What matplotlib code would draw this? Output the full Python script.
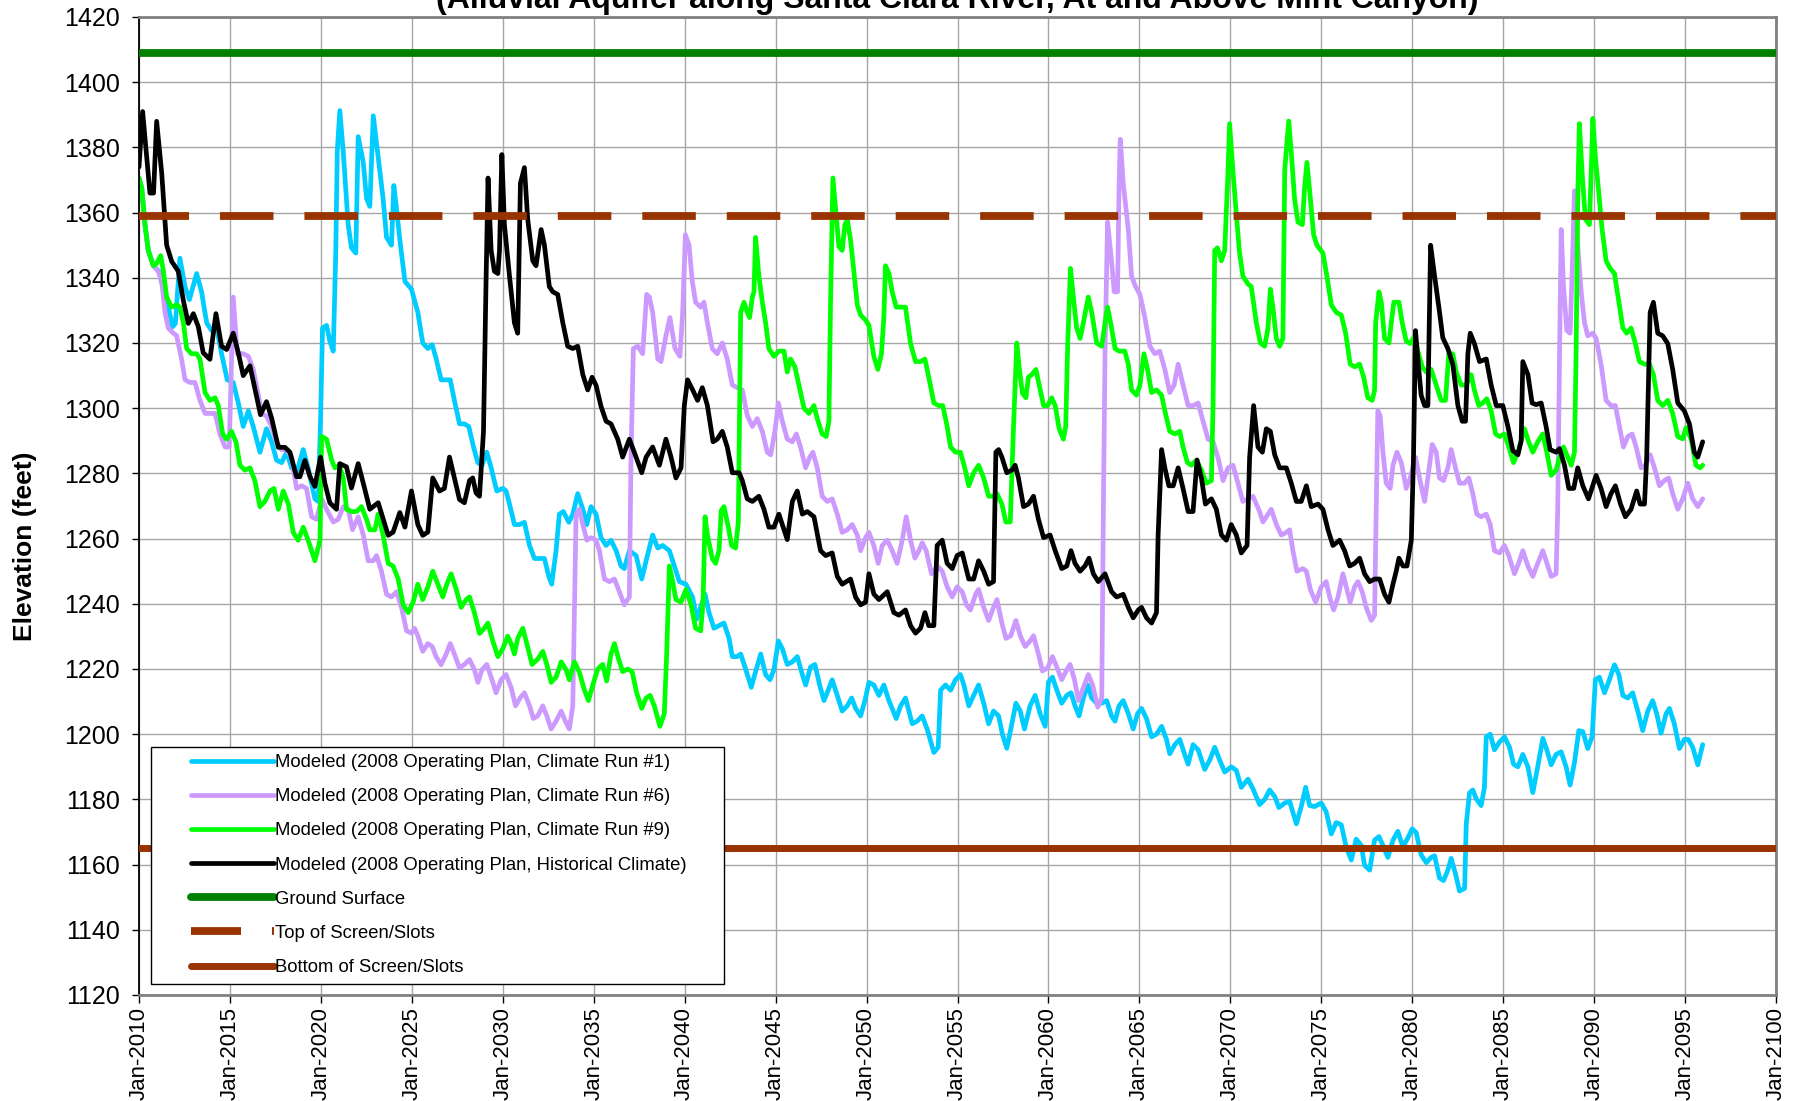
import matplotlib
matplotlib.use('Agg')
import matplotlib.pyplot as plt
from matplotlib.patches import Rectangle

plt.rcParams['font.family'] = ['Liberation Sans', 'DejaVu Sans']

title = "(Alluvial Aquifer along Santa Clara River, At and Above Mint Canyon)"
ylabel = "Elevation (feet)"
legend_labels = [
    "Modeled (2008 Operating Plan, Climate Run #1)",
    "Modeled (2008 Operating Plan, Climate Run #6)",
    "Modeled (2008 Operating Plan, Climate Run #9)",
    "Modeled (2008 Operating Plan, Historical Climate)",
    "Ground Surface",
    "Top of Screen/Slots",
    "Bottom of Screen/Slots",
]
ground_surface = 1409
top_of_screen = 1359
bottom_of_screen = 1165
x_ticks = list(range(2010, 2101, 5))
x_ticklabels = ["Jan-%d" % y for y in x_ticks]
y_ticks = list(range(1120, 1421, 20))

# (decimal year, elevation ft)
run1 = [(2010.0,1370.6),(2010.15,1367.5),(2010.33,1356.3),(2010.51,1348.4),(2010.79,1343.7),(2011.1,1342),(2011.4,1335),(2011.65,1330),(2011.85,1325),(2012.0,1326),
(2012.25,1346),(2012.53,1337.3),(2012.77,1333.3),(2013.17,1341.3),(2013.44,1335.7),(2013.72,1326.2),(2013.99,1323.8),(2014.27,1324.6),(2014.54,1316.7),(2014.85,1308.7),
(2015.18,1307.9),(2015.46,1301.6),(2015.73,1294.4),(2016.01,1299.2),(2016.28,1294.4),(2016.65,1286.5),(2017.01,1293.7),(2017.29,1289.7),(2017.56,1284.1),(2017.84,1283.3),
(2018.11,1286.5),(2018.39,1281.7),(2018.66,1280.2),(2019.03,1287.3),(2019.3,1281.7),(2019.67,1272.2),(2019.85,1271.4),(2019.98,1296),(2020.09,1324.6),(2020.31,1325.4),
(2020.49,1320.6),(2020.68,1317.5),(2020.82,1348.4),(2020.9,1378.6),(2021.04,1391.3),(2021.23,1378.6),(2021.5,1356.3),(2021.68,1349.2),(2021.92,1347.6),(2022.05,1383.3),
(2022.33,1375.4),(2022.51,1364.3),(2022.69,1361.9),(2022.88,1389.7),(2023.15,1377),(2023.42,1364.3),(2023.61,1352.4),(2023.88,1350),(2024.01,1368.3),(2024.16,1361.1),
(2024.34,1351.6),(2024.62,1338.9),(2024.98,1336.5),(2025.33,1329.4),(2025.6,1320),(2025.88,1318.3),(2026.12,1319.5),(2026.34,1315.1),(2026.61,1308.7),(2027.11,1308.7),
(2027.34,1302.4),(2027.62,1295.2),(2027.89,1295.2),(2028.13,1294.4),(2028.39,1288.1),(2028.63,1283.3),(2028.86,1282.5),(2029.12,1286.5),(2029.36,1281.7),(2029.67,1274.6),
(2030.0,1275.4),(2030.18,1274.6),(2030.37,1270.6),(2030.64,1264.3),(2030.92,1264.3),(2031.19,1265),(2031.47,1257.9),(2031.74,1253.9),(2032.01,1253.9),(2032.29,1253.9),
(2032.53,1248.4),(2032.69,1246),(2032.93,1256.3),(2033.11,1267.5),(2033.33,1268.3),(2033.63,1265),(2033.85,1267.5),(2034.12,1273.8),(2034.4,1269),(2034.62,1264.3),
(2034.85,1269.8),(2035.13,1267.5),(2035.4,1260.3),(2035.68,1257.9),(2035.95,1259.5),(2036.23,1256.3),(2036.5,1251.6),(2036.68,1250.8),(2036.96,1256.3),(2037.33,1254.8),
(2037.64,1247.6),(2037.88,1253.2),(2038.24,1261.1),(2038.52,1257.1),(2038.79,1257.9),(2039.16,1256.3),(2039.43,1251.6),(2039.71,1246.8),(2040.07,1246),(2040.44,1242),
(2040.66,1235.3),(2040.88,1238.9),(2041.12,1242.9),(2041.34,1237.3),(2041.61,1232.5),(2041.89,1233.3),(2042.16,1234.1),(2042.44,1229.4),(2042.62,1223.8),(2042.89,1223.8),
(2043.08,1224.6),(2043.35,1220),(2043.66,1214.4),(2043.9,1219.2),(2044.18,1224.6),(2044.45,1218.3),(2044.69,1216.7),(2044.91,1219.8),(2045.15,1228.6),(2045.37,1226.2),
(2045.64,1221.4),(2045.92,1222.2),(2046.19,1223.8),(2046.47,1218.3),(2046.65,1215.1),(2046.92,1220.6),(2047.16,1221.4),(2047.42,1215.1),(2047.66,1210.3),(2047.89,1213.5),
(2048.11,1216.7),(2048.39,1211.9),(2048.66,1207.1),(2048.94,1208.7),(2049.18,1211.1),(2049.4,1207.9),(2049.67,1205.6),(2049.91,1210.3),(2050.13,1215.9),(2050.4,1215.1),
(2050.68,1211.9),(2050.95,1215.1),(2051.23,1210.3),(2051.63,1204.8),(2051.87,1208.7),(2052.14,1211.1),(2052.51,1203.2),(2052.78,1204),(2053.06,1205.6),(2053.33,1201.6),
(2053.7,1194.4),(2053.94,1196),(2054.07,1213.5),(2054.34,1215.1),(2054.62,1213.5),(2054.89,1216.7),(2055.16,1218.3),(2055.35,1215.1),(2055.62,1208.7),(2055.89,1211.9),
(2056.16,1215.1),(2056.44,1209.5),(2056.71,1203.2),(2056.98,1207.1),(2057.26,1205.6),(2057.48,1199.7),(2057.71,1195.7),(2057.99,1203.2),(2058.21,1209.5),(2058.45,1207.1),
(2058.68,1201.6),(2058.99,1208.7),(2059.27,1211.9),(2059.54,1206.3),(2059.82,1202.4),(2060.0,1216),(2060.22,1217.5),(2060.46,1213.5),(2060.73,1209.5),(2061.01,1211.9),
(2061.24,1212.7),(2061.46,1208.7),(2061.68,1205.6),(2061.92,1211.1),(2062.16,1215.1),(2062.38,1211.1),(2062.65,1209.5),(2062.93,1209.5),(2063.2,1210.3),(2063.47,1205.6),
(2063.66,1204),(2063.88,1208.7),(2064.11,1210.3),(2064.39,1206.3),(2064.66,1201.6),(2064.9,1206.3),(2065.12,1207.9),(2065.39,1204.8),(2065.67,1199.2),(2065.94,1200),
(2066.22,1202.4),(2066.49,1198.4),(2066.67,1194),(2066.95,1196.8),(2067.22,1198.4),(2067.5,1193.6),(2067.68,1190.8),(2067.95,1196.8),(2068.23,1195.2),(2068.59,1189.2),
(2068.87,1192.1),(2069.14,1196),(2069.41,1192.1),(2069.69,1188.4),(2070.05,1190),(2070.33,1188.9),(2070.6,1183.7),(2070.97,1186.2),(2071.24,1183.3),(2071.61,1178.4),
(2071.89,1180),(2072.16,1182.9),(2072.44,1180.9),(2072.67,1177.5),(2072.99,1178.9),(2073.26,1179.4),(2073.63,1172.5),(2073.9,1177.8),(2074.14,1183.7),(2074.36,1178.1),
(2074.63,1177.8),(2075.0,1178.9),(2075.27,1176.2),(2075.55,1169.4),(2075.82,1172.9),(2076.1,1172.2),(2076.37,1165.4),(2076.65,1161.4),(2076.92,1167.8),(2077.2,1165.9),
(2077.38,1159.8),(2077.66,1158.3),(2077.93,1167.5),(2078.17,1168.6),(2078.39,1165.9),(2078.66,1162.2),(2078.94,1167.5),(2079.21,1170.2),(2079.49,1165.4),(2079.76,1168.2),
(2080.0,1171),(2080.22,1169.8),(2080.49,1163),(2080.77,1160.6),(2081.04,1162.2),(2081.23,1162.7),(2081.5,1155.9),(2081.72,1155.1),(2081.96,1158.3),(2082.14,1161.9),
(2082.38,1157.1),(2082.6,1151.9),(2082.88,1152.7),(2082.97,1172.5),(2083.15,1182),(2083.33,1182.9),(2083.52,1180.2),(2083.79,1178.1),(2083.97,1183.7),(2084.07,1199.2),
(2084.29,1200),(2084.52,1195.2),(2084.8,1197.6),(2085.07,1199.2),(2085.35,1196),(2085.57,1190.8),(2085.81,1190),(2086.08,1193.8),(2086.36,1190),(2086.63,1182.1),
(2086.9,1190),(2087.18,1198.7),(2087.4,1195.2),(2087.64,1190.6),(2087.91,1193.8),(2088.19,1194.6),(2088.46,1190),(2088.68,1184.4),(2088.92,1191.3),(2089.16,1201.1),
(2089.38,1200.8),(2089.65,1195.6),(2089.89,1199.2),(2090.07,1216.7),(2090.29,1217.5),(2090.57,1212.7),(2090.84,1216.7),(2091.12,1221.3),(2091.36,1218.3),(2091.58,1211.9),
(2091.85,1211.1),(2092.12,1212.7),(2092.4,1207.1),(2092.67,1201.1),(2092.95,1207.1),(2093.22,1210.3),(2093.44,1206.3),(2093.68,1200.3),(2093.96,1206.3),(2094.14,1207.9),
(2094.41,1203.2),(2094.69,1195.6),(2094.96,1198.4),(2095.18,1198.4),(2095.42,1196),(2095.7,1190.6),(2095.97,1196.8)]

run6 = [(2010.0,1370.6),(2010.15,1367.5),(2010.33,1356.3),(2010.51,1348.4),(2010.79,1343.7),(2011.06,1342),(2011.25,1338.9),(2011.43,1329.4),(2011.61,1324.6),(2011.89,1323),
(2012.07,1322.2),(2012.34,1315.1),(2012.53,1308.7),(2012.8,1307.9),(2013.08,1307.9),(2013.35,1302.4),(2013.63,1298.4),(2013.9,1298.4),(2014.18,1298.4),(2014.45,1292.1),
(2014.73,1288.1),(2014.96,1288.1),(2015.18,1334.1),(2015.4,1316.7),(2015.73,1316.7),(2016.01,1315.9),(2016.28,1311.9),(2016.56,1304),(2016.74,1298.4),(2017.01,1297.6),
(2017.29,1294.4),(2017.56,1289.7),(2017.84,1287.3),(2018.11,1287.3),(2018.39,1284.9),(2018.66,1275.4),(2018.94,1276.2),(2019.21,1275.4),(2019.49,1266.7),(2019.76,1265.9),
(2020.04,1272.2),(2020.31,1269),(2020.68,1265.1),(2020.95,1265.9),(2021.23,1269.8),(2021.5,1269),(2021.74,1262.7),(2022.05,1266.7),(2022.33,1261.1),(2022.6,1253.2),
(2022.88,1253.2),(2023.06,1254.8),(2023.33,1250),(2023.61,1242.9),(2023.88,1242.1),(2024.16,1243.7),(2024.43,1238.9),(2024.71,1231.7),(2024.98,1231),(2025.15,1232.5),
(2025.33,1230.2),(2025.6,1225.4),(2025.88,1227.8),(2026.12,1226.9),(2026.34,1223.7),(2026.61,1221.3),(2026.89,1224.6),(2027.11,1227.8),(2027.34,1224.6),(2027.62,1220.3),
(2027.89,1221.4),(2028.17,1222.9),(2028.44,1219.8),(2028.63,1215.9),(2028.86,1219.8),(2029.12,1221.4),(2029.36,1217.5),(2029.63,1212.7),(2029.91,1216.7),(2030.18,1218.3),
(2030.46,1214.3),(2030.7,1208.7),(2030.95,1211.1),(2031.19,1212.7),(2031.47,1208.7),(2031.68,1204.8),(2031.92,1205.6),(2032.2,1208.7),(2032.42,1205.6),(2032.66,1201.6),
(2032.93,1204),(2033.21,1207.1),(2033.44,1204),(2033.66,1201.6),(2033.85,1208.7),(2033.94,1237.3),(2034.03,1267.5),(2034.21,1269),(2034.4,1264.3),(2034.62,1259.5),
(2034.85,1260.3),(2035.13,1259.5),(2035.31,1256.3),(2035.59,1247.6),(2035.86,1246.8),(2036.14,1247.6),(2036.41,1243.7),(2036.68,1239.7),(2036.96,1242.1),(2037.05,1284.9),
(2037.18,1318.3),(2037.42,1319),(2037.69,1316.7),(2037.91,1334.9),(2038.06,1334.1),(2038.24,1329.4),(2038.52,1315.1),(2038.7,1314.3),(2038.97,1322.2),(2039.19,1327.8),
(2039.47,1318.3),(2039.74,1315.9),(2039.89,1329.4),(2040.04,1353.2),(2040.24,1350),(2040.42,1338.9),(2040.6,1332.5),(2040.88,1331),(2041.06,1332.5),(2041.25,1326.2),
(2041.52,1318.3),(2041.79,1316.7),(2042.07,1320),(2042.34,1315.1),(2042.62,1307.1),(2042.89,1306.3),(2043.17,1305.6),(2043.44,1297.8),(2043.72,1294.4),(2043.99,1296.8),
(2044.27,1292.9),(2044.54,1286.5),(2044.73,1285.7),(2044.96,1292.9),(2045.15,1301.6),(2045.37,1296),(2045.64,1290.5),(2045.92,1289.7),(2046.14,1292.1),(2046.37,1288.1),
(2046.65,1281.7),(2046.87,1284.9),(2047.05,1286.5),(2047.29,1281.7),(2047.56,1273),(2047.84,1271.4),(2048.11,1272.2),(2048.39,1267.5),(2048.66,1261.9),(2048.94,1262.7),
(2049.21,1264.3),(2049.49,1261.1),(2049.67,1256.3),(2049.95,1260.3),(2050.13,1261.9),(2050.4,1257.9),(2050.64,1252.4),(2050.86,1257.9),(2051.14,1259.5),(2051.41,1256.3),
(2051.68,1252.4),(2051.96,1259.5),(2052.18,1266.7),(2052.42,1259.5),(2052.66,1254),(2052.88,1256.3),(2053.06,1258.7),(2053.28,1256.3),(2053.57,1249.2),(2053.88,1251.6),
(2054.16,1250),(2054.43,1245.2),(2054.71,1242.1),(2054.98,1245.2),(2055.26,1243.7),(2055.49,1239.7),(2055.71,1238.1),(2056.0,1243),(2056.16,1244.4),(2056.44,1238.9),
(2056.71,1234.9),(2056.98,1238.9),(2057.17,1241.3),(2057.44,1234.1),(2057.66,1229.4),(2057.93,1230.2),(2058.21,1234.9),(2058.45,1230.2),(2058.72,1226.9),(2058.99,1228.6),
(2059.18,1230.2),(2059.45,1224.6),(2059.67,1219.4),(2059.96,1220.4),(2060.22,1223.8),(2060.46,1220.6),(2060.73,1216.7),(2061.01,1219.8),(2061.19,1221.4),(2061.43,1216.7),
(2061.65,1210.3),(2061.92,1214.3),(2062.19,1218.3),(2062.43,1215.1),(2062.71,1208.3),(2062.93,1211.1),(2063.02,1269),(2063.11,1316.7),(2063.25,1357.1),(2063.44,1346.8),
(2063.62,1335.7),(2063.8,1335.7),(2063.88,1367.5),(2063.95,1382.5),(2064.11,1369),(2064.39,1354.8),(2064.57,1340.5),(2064.79,1337.3),(2065.03,1334.9),(2065.3,1327.8),
(2065.58,1319),(2065.85,1316.7),(2066.12,1317.5),(2066.4,1311.9),(2066.67,1304.8),(2066.91,1307.1),(2067.13,1313.5),(2067.4,1307.1),(2067.68,1300.8),(2067.95,1300.8),
(2068.23,1301.6),(2068.5,1296),(2068.78,1290.5),(2069.05,1289.7),(2069.32,1284.9),(2069.6,1277.8),(2069.87,1281.7),(2070.15,1282.5),(2070.42,1277),(2070.69,1271.4),
(2070.97,1272.2),(2071.24,1273),(2071.61,1268.3),(2071.79,1265.1),(2072.07,1267.5),(2072.25,1269),(2072.53,1264.3),(2072.8,1261.1),(2073.08,1261.9),(2073.26,1262.7),
(2073.44,1256.3),(2073.66,1250),(2073.99,1250.8),(2074.18,1250),(2074.4,1244.4),(2074.69,1240.5),(2075.0,1245.2),(2075.27,1246.8),(2075.46,1242.1),(2075.68,1238.1),
(2075.92,1242.1),(2076.19,1249.2),(2076.41,1244.4),(2076.59,1240.5),(2076.83,1245.2),(2077.01,1246.8),(2077.25,1243.7),(2077.47,1238.9),(2077.75,1234.9),(2077.93,1236.5),
(2078.02,1269),(2078.11,1299.2),(2078.24,1297.6),(2078.39,1286.5),(2078.57,1277),(2078.79,1275.4),(2078.94,1282.5),(2079.16,1286.5),(2079.4,1283.3),(2079.67,1275.4),
(2079.89,1278.6),(2080.18,1284.9),(2080.4,1278.6),(2080.68,1271.4),(2080.86,1278.6),(2081.1,1288.9),(2081.32,1286.5),(2081.5,1278.6),(2081.72,1277.8),(2081.96,1281.7),
(2082.14,1287.3),(2082.38,1281.7),(2082.6,1277),(2082.88,1277),(2083.11,1278.6),(2083.33,1273.8),(2083.55,1267.5),(2083.79,1266.7),(2084.07,1267.5),(2084.29,1264.3),
(2084.52,1256.3),(2084.8,1255.6),(2085.07,1257.9),(2085.31,1254.8),(2085.62,1249.2),(2085.9,1253.2),(2086.08,1256.3),(2086.36,1251.6),(2086.63,1248.4),(2086.9,1252.4),
(2087.18,1256.3),(2087.45,1251.6),(2087.64,1248.4),(2087.91,1249.2),(2088.0,1269),(2088.1,1316.7),(2088.19,1354.8),(2088.32,1337.3),(2088.5,1323.8),(2088.68,1323),
(2088.83,1348.4),(2088.92,1366.7),(2089.1,1350),(2089.29,1335.7),(2089.47,1326.2),(2089.65,1322.2),(2089.93,1323),(2090.11,1321.4),(2090.38,1313.5),(2090.66,1302.4),
(2090.93,1300.8),(2091.17,1300.8),(2091.39,1294.4),(2091.61,1288.1),(2091.85,1291.3),(2092.09,1292.1),(2092.31,1288.1),(2092.58,1281.7),(2092.82,1282.5),(2093.08,1285.7),
(2093.32,1281.7),(2093.59,1276.2),(2093.86,1277.8),(2094.1,1278.6),(2094.32,1273.8),(2094.6,1269),(2094.87,1272.2),(2095.15,1277),(2095.42,1272.2),(2095.7,1269.8),
(2095.97,1272.2)]

run9 = [(2010.0,1370.6),(2010.15,1367.5),(2010.33,1356.3),(2010.51,1348.4),(2010.79,1343.7),(2010.97,1344.4),(2011.19,1346.8),(2011.34,1342.1),(2011.52,1334.1),(2011.79,1331),
(2012.07,1331.7),(2012.25,1331),(2012.44,1326.2),(2012.62,1318.3),(2012.89,1316.7),(2013.17,1316.7),(2013.35,1315.1),(2013.63,1304.8),(2013.9,1302.4),(2014.18,1303.2),
(2014.36,1300.8),(2014.6,1292.1),(2014.82,1290.5),(2015.09,1292.9),(2015.33,1289.7),(2015.55,1282.5),(2015.82,1281),(2016.1,1281.7),(2016.37,1277.8),(2016.65,1269.8),
(2016.92,1271.4),(2017.2,1274.6),(2017.42,1275.4),(2017.66,1269),(2017.93,1274.6),(2018.21,1270.6),(2018.48,1261.9),(2018.75,1259.5),(2019.03,1263.5),(2019.3,1259.5),
(2019.67,1253.2),(2019.95,1259.5),(2020.04,1291.3),(2020.31,1290.5),(2020.59,1284.1),(2020.77,1281.7),(2021.01,1282.5),(2021.23,1278.6),(2021.41,1269),(2021.68,1268.3),
(2021.96,1268.3),(2022.23,1269.8),(2022.51,1265.9),(2022.69,1262.7),(2022.97,1262.7),(2023.15,1267.5),(2023.42,1261.1),(2023.7,1252.4),(2023.97,1251.6),(2024.25,1247.6),
(2024.52,1239.7),(2024.8,1237.3),(2025.07,1240.5),(2025.33,1246),(2025.6,1241.3),(2025.88,1245.2),(2026.15,1250),(2026.43,1246),(2026.7,1242.1),(2026.92,1246),
(2027.16,1249.2),(2027.44,1244.4),(2027.71,1238.9),(2027.99,1241.3),(2028.17,1242.1),(2028.44,1237.3),(2028.72,1230.9),(2028.99,1232.5),(2029.18,1234.1),(2029.45,1228.6),
(2029.73,1223.8),(2030.0,1226.2),(2030.27,1230.1),(2030.46,1227.8),(2030.64,1224.6),(2030.82,1229.4),(2031.1,1232.5),(2031.32,1227.8),(2031.61,1221.4),(2031.92,1223),
(2032.2,1225.4),(2032.42,1221.4),(2032.66,1215.9),(2032.93,1217.5),(2033.21,1222.2),(2033.48,1219.8),(2033.66,1216.7),(2033.94,1222.2),(2034.21,1219),(2034.49,1213.5),
(2034.71,1210.3),(2034.95,1215.1),(2035.22,1220),(2035.49,1221.4),(2035.71,1216.3),(2035.95,1224.6),(2036.14,1227.8),(2036.37,1223),(2036.59,1219.2),(2036.87,1220),
(2037.11,1219.2),(2037.36,1212.7),(2037.64,1207.9),(2037.88,1211.1),(2038.1,1211.9),(2038.33,1208.7),(2038.64,1202.4),(2038.88,1206.3),(2039.01,1224.4),(2039.16,1251.6),
(2039.34,1246.8),(2039.52,1241.3),(2039.8,1240.5),(2040.07,1244.4),(2040.35,1239.7),(2040.6,1232.5),(2040.88,1231.7),(2041.01,1240.5),(2041.12,1266.7),(2041.25,1261.1),
(2041.52,1253.9),(2041.7,1252.4),(2041.89,1256.4),(2042.01,1268.6),(2042.16,1269.8),(2042.4,1263.5),(2042.58,1257.9),(2042.8,1257.1),(2042.95,1265),(2043.02,1300.8),
(2043.08,1329.4),(2043.26,1332.5),(2043.44,1329.4),(2043.57,1327.8),(2043.72,1334.1),(2043.81,1335.7),(2043.9,1352.4),(2044.08,1340.5),(2044.27,1332.5),(2044.45,1326.2),
(2044.63,1318.3),(2044.91,1315.9),(2045.18,1317.5),(2045.46,1317.5),(2045.64,1311.1),(2045.82,1315.1),(2046.06,1312.7),(2046.28,1307.1),(2046.56,1300),(2046.83,1298.4),
(2047.11,1300.8),(2047.29,1296.8),(2047.56,1292.1),(2047.78,1291.3),(2047.93,1296),(2048.02,1332.5),(2048.15,1370.6),(2048.3,1361.1),(2048.48,1349.6),(2048.66,1348.4),
(2048.81,1356.3),(2048.94,1357.9),(2049.12,1351.6),(2049.3,1342.1),(2049.49,1331.7),(2049.67,1328.6),(2049.95,1327),(2050.13,1325.4),(2050.4,1315.9),(2050.62,1311.9),
(2050.82,1316.7),(2050.95,1327.8),(2051.04,1343.7),(2051.23,1341.3),(2051.41,1335.7),(2051.63,1331),(2051.87,1331),(2052.14,1331),(2052.42,1319.8),(2052.69,1314.3),
(2052.97,1314.3),(2053.21,1315.1),(2053.42,1309.5),(2053.7,1301.6),(2053.97,1300.8),(2054.19,1300.8),(2054.43,1294.4),(2054.62,1288.1),(2054.89,1286.5),(2055.16,1286.5),
(2055.4,1281.7),(2055.62,1276.2),(2055.89,1280.2),(2056.16,1282.5),(2056.44,1278.6),(2056.71,1273),(2056.98,1273),(2057.17,1273.8),(2057.44,1270.6),(2057.66,1265.1),
(2057.9,1265.1),(2058.08,1294.4),(2058.17,1307.1),(2058.26,1320),(2058.39,1312.5),(2058.57,1304.6),(2058.76,1303.2),(2058.9,1309.5),(2059.09,1310.3),(2059.31,1311.9),
(2059.49,1307.1),(2059.73,1300.8),(2059.96,1300.8),(2060.18,1303.2),(2060.37,1300.8),(2060.59,1293.7),(2060.82,1290.5),(2060.95,1294.4),(2061.06,1319.8),(2061.21,1342.9),
(2061.37,1334.1),(2061.55,1324.6),(2061.74,1321.4),(2061.92,1326.2),(2062.19,1334.1),(2062.38,1329.4),(2062.65,1320),(2062.93,1319),(2063.11,1326.2),(2063.25,1331),
(2063.47,1324.6),(2063.66,1318.3),(2063.88,1317.5),(2064.2,1317.5),(2064.39,1313.5),(2064.57,1305.6),(2064.84,1304),(2065.03,1307.1),(2065.25,1316.7),(2065.45,1311.9),
(2065.67,1304.8),(2065.94,1305.6),(2066.22,1304),(2066.4,1299.2),(2066.67,1292.9),(2066.95,1292.1),(2067.22,1292.9),(2067.4,1288.1),(2067.64,1283.3),(2067.86,1282.5),
(2068.14,1284.1),(2068.41,1281),(2068.68,1277),(2068.96,1277.8),(2069.05,1300.8),(2069.14,1348.4),(2069.29,1349.2),(2069.51,1345.2),(2069.69,1348.4),(2069.87,1372.2),
(2069.96,1387.3),(2070.15,1372.2),(2070.33,1359.5),(2070.5,1348),(2070.69,1340.5),(2070.97,1338.1),(2071.15,1337.3),(2071.43,1326.2),(2071.65,1320),(2071.89,1319),
(2072.07,1324.6),(2072.2,1336.5),(2072.34,1331),(2072.53,1321.4),(2072.71,1319),(2072.89,1321.4),(2072.99,1373),(2073.21,1388.1),(2073.35,1378.6),(2073.53,1364.3),
(2073.72,1357.1),(2073.96,1356.3),(2074.08,1367.5),(2074.21,1375.4),(2074.36,1366.7),(2074.58,1353.2),(2074.76,1350),(2075.09,1347.6),(2075.31,1340.5),(2075.55,1331.7),
(2075.82,1329.4),(2076.1,1328.6),(2076.34,1323),(2076.59,1313.5),(2076.83,1312.7),(2077.11,1313.5),(2077.33,1309.5),(2077.56,1303.2),(2077.8,1302.4),(2077.93,1305.5),
(2077.99,1326.2),(2078.17,1335.7),(2078.3,1332.5),(2078.48,1321.4),(2078.72,1320),(2078.85,1326.2),(2078.99,1332.5),(2079.27,1332.5),(2079.45,1326.2),(2079.67,1320.6),
(2079.89,1319.8),(2080.13,1322.2),(2080.31,1317.5),(2080.55,1312.7),(2080.77,1311.1),(2081.04,1311.9),(2081.32,1307.1),(2081.59,1302.4),(2081.83,1302.4),(2082.01,1316.7),
(2082.23,1316.7),(2082.42,1311.1),(2082.69,1307.1),(2082.97,1307.1),(2083.24,1310.3),(2083.42,1305.5),(2083.66,1300.8),(2083.88,1301.6),(2084.1,1302.9),(2084.34,1299.2),
(2084.58,1292.1),(2084.8,1291.3),(2085.07,1292.1),(2085.31,1288.1),(2085.57,1283.3),(2085.81,1286.5),(2086.17,1293.7),(2086.41,1289.6),(2086.63,1286.5),(2086.9,1289.7),
(2087.18,1292.1),(2087.4,1286.5),(2087.64,1279.4),(2087.91,1281),(2088.1,1284.9),(2088.32,1288.1),(2088.55,1284.9),(2088.74,1282.5),(2088.92,1286.5),(2089.01,1316.7),
(2089.1,1364.3),(2089.19,1387.3),(2089.34,1372.2),(2089.52,1358),(2089.74,1356.3),(2089.84,1372.2),(2089.93,1388.9),(2090.07,1377),(2090.26,1365.9),(2090.44,1354.8),
(2090.66,1345.2),(2090.88,1342.9),(2091.12,1341.3),(2091.36,1332.5),(2091.58,1324.6),(2091.79,1323),(2092.03,1324.6),(2092.27,1319.8),(2092.49,1314.3),(2092.77,1313.5),
(2093.04,1313.5),(2093.26,1310.3),(2093.5,1302.4),(2093.77,1300.8),(2094.05,1302.4),(2094.32,1298.4),(2094.6,1291.3),(2094.87,1290.6),(2095.05,1294),(2095.33,1290.6),
(2095.6,1282.5),(2095.82,1281.7),(2095.97,1282.5)]

historical = [(2010.0,1374),(2010.2,1391),(2010.6,1366),(2010.8,1366),(2010.97,1388),(2011.25,1372),(2011.52,1350),(2011.8,1345),(2012.16,1342),(2012.44,1333),
(2012.71,1326),(2012.99,1329),(2013.26,1325),(2013.53,1317),(2013.9,1315),(2014.23,1329),(2014.54,1319),(2014.82,1318),(2015.18,1323),(2015.46,1317),
(2015.73,1310),(2016.1,1313),(2016.37,1306),(2016.68,1298),(2017.01,1302),(2017.29,1297),(2017.66,1288),(2018.02,1288),(2018.3,1286.5),(2018.66,1279),
(2018.85,1279),(2019.12,1284),(2019.4,1279),(2019.67,1276),(2019.98,1285),(2020.22,1277),(2020.49,1271),(2020.86,1269),(2021.04,1283),(2021.41,1282),
(2021.68,1275.5),(2022.05,1283),(2022.33,1277),(2022.69,1269),(2023.15,1271),(2023.7,1261),(2023.97,1262),(2024.34,1268),(2024.62,1263.5),(2024.98,1274.6),
(2025.33,1264.3),(2025.6,1261),(2025.88,1262),(2026.15,1278.6),(2026.52,1274.6),(2026.79,1275.4),(2027.07,1285),(2027.34,1278.6),(2027.62,1272),(2027.89,1271),
(2028.17,1277.8),(2028.35,1278.6),(2028.53,1274),(2028.72,1273),(2028.94,1292.9),(2029.08,1338.9),(2029.19,1370.6),(2029.36,1348.4),(2029.54,1342),(2029.73,1341.3),
(2029.82,1348.4),(2029.95,1377.8),(2030.09,1356.3),(2030.37,1340.5),(2030.64,1326.2),(2030.82,1323),(2030.97,1369),(2031.19,1373.8),(2031.37,1358),(2031.65,1345.2),
(2031.83,1343.7),(2032.11,1354.8),(2032.29,1350),(2032.56,1337.3),(2032.75,1335.7),(2033.02,1334.9),(2033.3,1326.2),(2033.57,1319),(2033.85,1318.3),(2034.12,1319),
(2034.4,1310.3),(2034.67,1305.6),(2034.91,1309.5),(2035.13,1307),(2035.4,1300.6),(2035.68,1296),(2035.95,1295.2),(2036.32,1290.5),(2036.59,1285),(2036.96,1290.5),
(2037.23,1286.5),(2037.64,1280.2),(2037.88,1285),(2038.24,1288.1),(2038.61,1282.5),(2038.97,1290.5),(2039.25,1285),(2039.52,1278.6),(2039.8,1281.7),(2039.98,1300.8),
(2040.16,1308.7),(2040.44,1305.6),(2040.71,1302.4),(2040.97,1306.3),(2041.25,1300.8),(2041.56,1289.7),(2041.79,1290.5),(2042.07,1292.9),(2042.34,1288.1),(2042.62,1280.2),
(2042.99,1280.2),(2043.17,1277.8),(2043.44,1272.2),(2043.72,1271.4),(2044.08,1273),(2044.36,1269),(2044.63,1263.5),(2044.91,1263.5),(2045.18,1267.5),(2045.64,1259.7),
(2045.92,1271.4),(2046.19,1274.6),(2046.47,1267.5),(2046.74,1268.3),(2047.11,1266.7),(2047.47,1256.3),(2047.75,1254.8),(2048.11,1255.6),(2048.39,1248.4),(2048.66,1246),
(2049.12,1247.6),(2049.4,1242),(2049.67,1239.7),(2049.95,1240.5),(2050.13,1249.2),(2050.4,1243),(2050.68,1241.3),(2051.14,1243.7),(2051.5,1237.3),(2051.78,1236.5),
(2052.14,1238.1),(2052.42,1233.3),(2052.69,1231),(2052.97,1232.5),(2053.21,1237.3),(2053.42,1233.3),(2053.7,1233.3),(2053.88,1257.9),(2054.16,1259.5),(2054.43,1252.4),
(2054.71,1250.8),(2054.98,1254.8),(2055.26,1255.6),(2055.62,1247.6),(2055.89,1247.6),(2056.16,1253.2),(2056.44,1250),(2056.71,1246),(2056.98,1246.8),(2057.11,1286.5),
(2057.26,1287.3),(2057.44,1285),(2057.71,1280.2),(2057.99,1281),(2058.17,1282.5),(2058.35,1278.6),(2058.63,1269.8),(2058.9,1270.6),(2059.18,1273),(2059.45,1265.9),
(2059.73,1260.3),(2060.09,1261.1),(2060.37,1256.3),(2060.73,1250.8),(2061.01,1251.6),(2061.24,1256.3),(2061.46,1252.4),(2061.74,1250),(2062.01,1251.6),(2062.23,1254),
(2062.47,1249.2),(2062.74,1246.8),(2063.11,1249.2),(2063.47,1243.7),(2063.75,1242.1),(2064.11,1242.9),(2064.39,1238.9),(2064.66,1235.7),(2064.94,1238.1),(2065.12,1238.9),
(2065.39,1235.7),(2065.67,1234.1),(2065.94,1237.3),(2066.03,1261.1),(2066.22,1287.3),(2066.4,1281.7),(2066.62,1276.2),(2066.86,1276.2),(2067.13,1281.7),(2067.4,1275.4),
(2067.68,1268.3),(2067.95,1268.3),(2068.17,1284.1),(2068.41,1278.6),(2068.63,1270.6),(2068.96,1272.2),(2069.23,1269),(2069.51,1261.1),(2069.78,1259.5),(2070.05,1264.3),
(2070.33,1261.1),(2070.6,1255.6),(2070.92,1257.9),(2071.06,1284.9),(2071.28,1300.8),(2071.52,1288.1),(2071.76,1286.5),(2071.98,1293.7),(2072.2,1292.9),(2072.44,1285.7),
(2072.71,1281.7),(2073.08,1281.7),(2073.35,1277),(2073.63,1271.4),(2073.9,1271.4),(2074.18,1276.2),(2074.45,1269.8),(2074.82,1270.6),(2075.09,1269),(2075.37,1262.7),
(2075.64,1257.9),(2076.01,1259.5),(2076.28,1256.3),(2076.56,1251.6),(2076.83,1252.4),(2077.11,1254),(2077.38,1249.2),(2077.66,1246.8),(2077.93,1247.6),(2078.21,1247.6),
(2078.48,1242.9),(2078.72,1240.5),(2078.94,1246),(2079.12,1250),(2079.27,1254),(2079.49,1251.6),(2079.71,1251.6),(2079.95,1259.5),(2080.07,1284.9),(2080.18,1323.8),
(2080.31,1315.1),(2080.49,1304),(2080.68,1300.8),(2080.86,1300.8),(2081.01,1350),(2081.23,1340.5),(2081.5,1329.5),(2081.68,1321.6),(2081.96,1318.3),(2082.23,1313.5),
(2082.51,1300.8),(2082.75,1296),(2082.93,1296),(2083.06,1316.7),(2083.19,1323),(2083.42,1319.8),(2083.7,1314.3),(2084.07,1315.1),(2084.34,1307.1),(2084.62,1300.8),
(2084.98,1300.8),(2085.26,1294.4),(2085.53,1287),(2085.81,1285.7),(2085.99,1290),(2086.08,1314.3),(2086.36,1310.3),(2086.59,1301.6),(2086.81,1301.1),(2087.09,1301.6),
(2087.36,1294.4),(2087.58,1287.3),(2087.91,1286.5),(2088.1,1287.6),(2088.37,1282.5),(2088.61,1275.4),(2088.88,1275.4),(2089.1,1281.7),(2089.38,1276.2),(2089.69,1272.2),
(2090.11,1279.4),(2090.38,1275.4),(2090.66,1269.8),(2090.93,1273.8),(2091.17,1276.2),(2091.45,1270.6),(2091.72,1266.7),(2092.03,1269),(2092.34,1274.6),(2092.53,1270.6),
(2092.77,1270.6),(2092.89,1284.9),(2093.08,1329.4),(2093.26,1332.5),(2093.5,1323),(2093.77,1322.2),(2094.05,1319.8),(2094.32,1311.9),(2094.6,1301.6),(2094.96,1299.2),
(2095.24,1295.2),(2095.51,1286.5),(2095.7,1285),(2095.97,1289.7)]

W, H = 1799, 1101
fig = plt.figure(figsize=(W / 100, H / 100), dpi=100)
ax_l, ax_r, ax_t, ax_b = 139, 1776, 17, 995
ax = fig.add_axes([ax_l / W, 1 - ax_b / H, (ax_r - ax_l) / W, (ax_b - ax_t) / H])

series = [(run1, '#00CCFF'), (run6, '#CC99FF'), (run9, '#00FF00'), (historical, '#000000')]
handles = []
for data, col in series:
    xs = [p[0] for p in data]
    ys = [p[1] for p in data]
    ln, = ax.plot(xs, ys, color=col, lw=3.4, solid_capstyle='round', solid_joinstyle='round', zorder=2)
    handles.append(ln)

xr = [2010, 2100]
lg, = ax.plot(xr, [ground_surface] * 2, color='#008000', lw=5.6, solid_capstyle='round', zorder=3)
lt, = ax.plot(xr, [top_of_screen] * 2, color='#993300', lw=5.6,
              linestyle=(0.45, (6.88, 3.98)), dash_capstyle='butt', zorder=3)
lb, = ax.plot(xr, [bottom_of_screen] * 2, color='#993300', lw=5.0, solid_capstyle='round', zorder=3)
handles += [lg, lt, lb]

ax.set_xlim(2010, 2100)
ax.set_ylim(1120, 1420)
ax.set_xticks(x_ticks)
ax.set_xticklabels(x_ticklabels, rotation=90, fontsize=16)
ax.set_yticks(y_ticks)
ax.set_yticklabels([str(v) for v in y_ticks], fontsize=18)
ax.tick_params(axis='x', direction='out', length=6, width=1, pad=3, colors='black')
ax.tick_params(axis='y', direction='out', length=5, width=1, pad=9, colors='black')
ax.grid(True, color='#a6a6a6', lw=1.0)
ax.set_axisbelow(True)
for s in ['top', 'right', 'bottom']:
    ax.spines[s].set_color('#808080')
    ax.spines[s].set_linewidth(2)
ax.spines['left'].set_color('black')
ax.spines['left'].set_linewidth(1.3)

# legend box
lx0 = (151 - ax_l) / (ax_r - ax_l)
lx1 = (724 - ax_l) / (ax_r - ax_l)
ly0 = (ax_b - 984) / (ax_b - ax_t)
ly1 = (ax_b - 747) / (ax_b - ax_t)
ax.add_patch(Rectangle((lx0, ly0), lx1 - lx0, ly1 - ly0, transform=ax.transAxes,
                       facecolor='white', edgecolor='black', lw=1.0, zorder=5))
leg = ax.legend(handles, legend_labels, loc='upper left',
                bbox_to_anchor=((190.5 - ax_l) / (ax_r - ax_l), (ax_b - 754) / (ax_b - ax_t)),
                frameon=False, fontsize=13.3, handlelength=4.5, handletextpad=0.1,
                labelspacing=0.93, borderpad=0, borderaxespad=0)
leg.set_zorder(6)

fig.text(((ax_l + ax_r) / 2) / W, 1 - 8 / H, title, ha='center', va='baseline',
         fontsize=23, fontweight='bold')
fig.text(25 / W, 1 - 546.7 / H, ylabel, rotation=90, ha='center', va='center',
         fontsize=19, fontweight='bold')

fig.savefig('out.png', dpi=100)
